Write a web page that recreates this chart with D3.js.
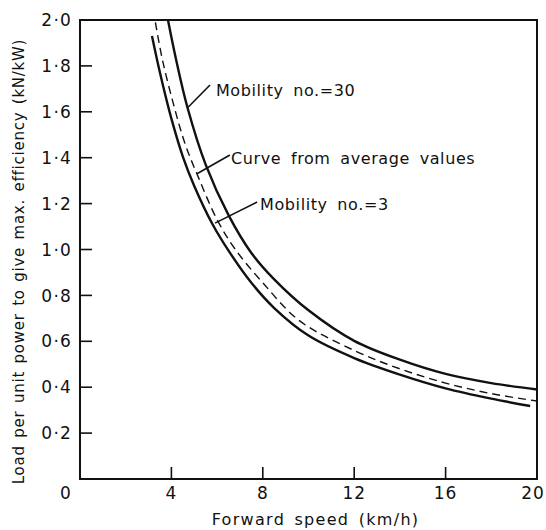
<!DOCTYPE html>
<html>
<head>
<meta charset="utf-8">
<script src="https://cdn.jsdelivr.net/npm/d3@7"></script>
<style>
  body { margin: 0; background: #fff; }
  text { font-family: "DejaVu Sans", sans-serif; fill: #111; }
</style>
</head>
<body>
<svg id="chart" width="546" height="530"></svg>
<script>
// Curves: [speed km/h, load kN/kW]
const mobility30 = [[3.85, 2.0], [4.2, 1.83], [4.7, 1.62], [5.5, 1.37], [6.5, 1.15], [7.5, 0.985],
  [8.5, 0.87], [10, 0.735], [12, 0.602], [14, 0.52], [16, 0.458], [18, 0.418], [20, 0.39]];
const average = [[3.3, 1.99], [3.6, 1.83], [4.1, 1.63], [4.6, 1.46], [5.2, 1.31], [6, 1.13], [6.8, 1.0],
  [8, 0.855], [9.6, 0.69], [12, 0.56], [14, 0.48], [16, 0.418], [18, 0.372], [20, 0.34]];
const mobility3 = [[3.15, 1.93], [3.5, 1.77], [4, 1.57], [4.5, 1.405], [5, 1.277], [5.8, 1.11], [6.5, 0.995],
  [7.5, 0.855], [8.5, 0.745], [10, 0.625], [12, 0.527], [14, 0.455], [16, 0.395], [18, 0.35], [19.7, 0.318]];

const xTicks = [4, 8, 12, 16, 20];
const yTicks = [0.2, 0.4, 0.6, 0.8, 1.0, 1.2, 1.4, 1.6, 1.8, 2.0];

// labels with leader lines: text anchor and line end points in data units
const notes = [
  { label: "Mobility no.=30", tx: 5.95, ty: 1.669, from: [4.73, 1.62], to: [5.69, 1.717] },
  { label: "Curve from average values", tx: 6.61, ty: 1.373, from: [5.12, 1.33], to: [6.56, 1.412] },
  { label: "Mobility no.=3", tx: 7.88, ty: 1.172, from: [5.91, 1.115], to: [7.75, 1.207] }
];

const svg = d3.select("#chart");
const margin = { top: 20, right: 9, bottom: 51, left: 80 };
const width = +svg.attr("width") - margin.left - margin.right;
const height = +svg.attr("height") - margin.top - margin.bottom;
const g = svg.append("g").attr("transform", `translate(${margin.left},${margin.top})`);

const x = d3.scaleLinear().domain([0, 20]).range([0, width]);
const y = d3.scaleLinear().domain([0, 2]).range([height, 0]);

const fmt = d => d.toFixed(1).replace(".", "\u00b7");

// frame
g.append("rect")
  .attr("width", width).attr("height", height)
  .attr("fill", "none").attr("stroke", "#111").attr("stroke-width", 2);

// inward ticks
g.selectAll(".yt").data(yTicks.filter(d => d < 2))
  .enter().append("line")
  .attr("x1", 0).attr("x2", 12)
  .attr("y1", d => y(d)).attr("y2", d => y(d))
  .attr("stroke", "#111").attr("stroke-width", 1.6);

g.selectAll(".xt").data(xTicks.filter(d => d < 20))
  .enter().append("line")
  .attr("x1", d => x(d)).attr("x2", d => x(d))
  .attr("y1", height).attr("y2", height - 12)
  .attr("stroke", "#111").attr("stroke-width", 1.6);

// tick labels
g.selectAll(".yl").data(yTicks)
  .enter().append("text")
  .attr("x", -8).attr("y", d => y(d))
  .attr("dy", "0.36em").attr("text-anchor", "end")
  .attr("font-size", 17).attr("letter-spacing", 1.2)
  .text(fmt);

g.selectAll(".xl").data([0].concat(xTicks))
  .enter().append("text")
  .attr("x", d => d === 0 ? x(d) - 14 : (d === 20 ? x(d) - 4 : x(d)))
  .attr("y", height + 20)
  .attr("text-anchor", "middle")
  .attr("font-size", 17).attr("letter-spacing", 1)
  .text(d => d);

// axis titles
g.append("text")
  .attr("x", width / 2 + 7).attr("y", height + 46)
  .attr("text-anchor", "middle").attr("font-size", 16).attr("letter-spacing", 1.3)
  .attr("word-spacing", 3)
  .text("Forward speed (km/h)");

g.append("text")
  .attr("transform", `translate(-56,${height / 2 + 12}) rotate(-90)`)
  .attr("text-anchor", "middle").attr("font-size", 15).attr("letter-spacing", 0.75)
  .attr("word-spacing", 2)
  .text("Load per unit power to give max. efficiency (kN/kW)");

// curves
const line = d3.line().x(d => x(d[0])).y(d => y(d[1])).curve(d3.curveCatmullRom.alpha(0.5));

g.append("path").datum(mobility30).attr("d", line)
  .attr("fill", "none").attr("stroke", "#111").attr("stroke-width", 2.4);
g.append("path").datum(mobility3).attr("d", line)
  .attr("fill", "none").attr("stroke", "#111").attr("stroke-width", 2.4);
g.append("path").datum(average).attr("d", line)
  .attr("fill", "none").attr("stroke", "#111").attr("stroke-width", 1.4)
  .attr("stroke-dasharray", "8,5");

// annotations
g.selectAll(".lead").data(notes)
  .enter().append("line")
  .attr("x1", d => x(d.from[0])).attr("y1", d => y(d.from[1]))
  .attr("x2", d => x(d.to[0])).attr("y2", d => y(d.to[1]))
  .attr("stroke", "#111").attr("stroke-width", 1.6);

g.selectAll(".note").data(notes)
  .enter().append("text")
  .attr("x", d => x(d.tx)).attr("y", d => y(d.ty))
  .attr("font-size", 16).attr("letter-spacing", 0.6).attr("word-spacing", 4)
  .text(d => d.label);
</script>
</body>
</html>
